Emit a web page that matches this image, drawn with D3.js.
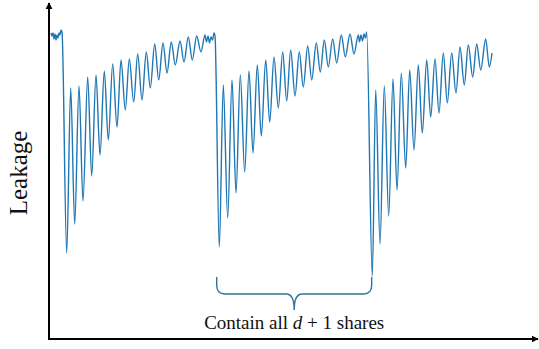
<!DOCTYPE html>
<html><head><meta charset="utf-8">
<script src="https://cdn.jsdelivr.net/npm/d3@7"></script>
<style>body{margin:0;background:#fff}svg{display:block}</style>
</head><body>
<script>
// time index (arbitrary units) and leakage (arbitrary units)
const timeIdx = [2,3,4,5,6,7,8,9,10,11,12,13,
17.7,21.7,25.7,30,34,38.7,42.7,47,51,55.3,59.3,63.7,68,72,76.3,80.3,84.7,88.7,93,97.3,101.3,105.7,109.7,114,118,122.3,126.3,131,135,139.3,143.3,147.7,152,156,
157.5,159,160.5,162,163.5,165,166,
170.3,174.3,178.7,183,187,191.3,195.7,200,204,208.3,212.3,216.7,220.7,225,229.3,233.7,237.7,241.7,246,250.3,254.3,258.7,262.7,267.3,271.3,275.3,279.3,283.7,287.7,292.3,296.3,301,305,309.3,
310.5,312,313.5,315,316.5,317.7,
323.3,326.7,331,335.3,339.7,344,348,352.3,356.7,360.7,365,369.3,373.3,377.7,381.7,386,390,394.3,398.3,402.7,407,411,415.3,419.3,423.7,427.7,431.7,436.7,440.3,443];
const leakage = [306,303,306,300,305,299,304,301,306,304,309,307,
86,251,115,253,138,262,163,264,184,268,199,275,212,279,229,280,237,285,239,287,251,295,259,296,266,297,274,298,277,302,279,303,287,304,
297,303,296,302,299,306,303,
92,254,121,259,146,264,167,268,186,274,203,279,217,282,231,287,238,289,243,287,252,293,259,296,267,299,272,300,276,304,282,305,285,304,
297,304,298,305,301,307,
63,249,95,253,123,260,149,266,171,269,189,274,206,279,222,280,226,286,236,286,246,292,254,294,262,295,269,300,272,286];
const yLabel = "Leakage";
const braceRange = [167.7, 322.7]; // in time units
const braceText = ["Contain all ", "d", " + 1 shares"];

const W = 539, H = 349;
const svg = d3.select("body").append("svg").attr("width", W).attr("height", H);
const x = d3.scaleLinear().domain([0, 489]).range([49, 538]);
const y = d3.scaleLinear().domain([0, 336]).range([339, 3]);

const defs = svg.append("defs");
defs.append("marker").attr("id","arr").attr("viewBox","0 0 10 10").attr("refX",9).attr("refY",5)
  .attr("markerWidth",3.6).attr("markerHeight",3.6).attr("orient","auto")
  .append("path").attr("d","M0,0L10,5L0,10z").attr("fill","#000");

// axes
svg.append("line").attr("x1", x(0)).attr("y1", y(0)).attr("x2", x(0)).attr("y2", y(336))
  .attr("stroke","#000").attr("stroke-width",2).attr("marker-end","url(#arr)");
svg.append("line").attr("x1", x(0)-1).attr("y1", y(0)).attr("x2", x(489)).attr("y2", y(0))
  .attr("stroke","#000").attr("stroke-width",2).attr("marker-end","url(#arr)");

// trace
const pts = timeIdx.map((t,i)=>[t, leakage[i]]);
svg.append("path").datum(pts)
  .attr("fill","none").attr("stroke","#1f77b4").attr("stroke-width",1.4)
  .attr("d", d3.line().x(d=>x(d[0])).y(d=>y(d[1])).curve(d3.curveMonotoneX));

// brace
const bx0 = x(braceRange[0]), bx1 = x(braceRange[1]), bm = (bx0+bx1)/2;
const bTop = 277, hy = 294, tip = 310;
const bp = d3.path();
bp.moveTo(bx0, bTop);
bp.lineTo(bx0, hy-9);
bp.quadraticCurveTo(bx0, hy, bx0+8, hy);
bp.lineTo(bm-8, hy);
bp.quadraticCurveTo(bm, hy, bm, tip);
bp.quadraticCurveTo(bm, hy, bm+8, hy);
bp.lineTo(bx1-8, hy);
bp.quadraticCurveTo(bx1, hy, bx1, hy-9);
bp.lineTo(bx1, bTop);
svg.append("path").attr("d", bp.toString()).attr("fill","none").attr("stroke","#31739b").attr("stroke-width",1.4);

const txt = svg.append("text").attr("x", bm).attr("y", 329).attr("text-anchor","middle")
  .attr("font-family","'Liberation Serif','Times New Roman',serif").attr("font-size",19).attr("fill","#111");
txt.append("tspan").text(braceText[0]);
txt.append("tspan").attr("font-style","italic").text(braceText[1]);
txt.append("tspan").text(braceText[2]);

svg.append("text").attr("transform","translate(27,173) rotate(-90)").attr("text-anchor","middle")
  .attr("font-family","'Liberation Serif','Times New Roman',serif").attr("font-size",25).attr("fill","#111")
  .text(yLabel);
</script>
</body></html>
